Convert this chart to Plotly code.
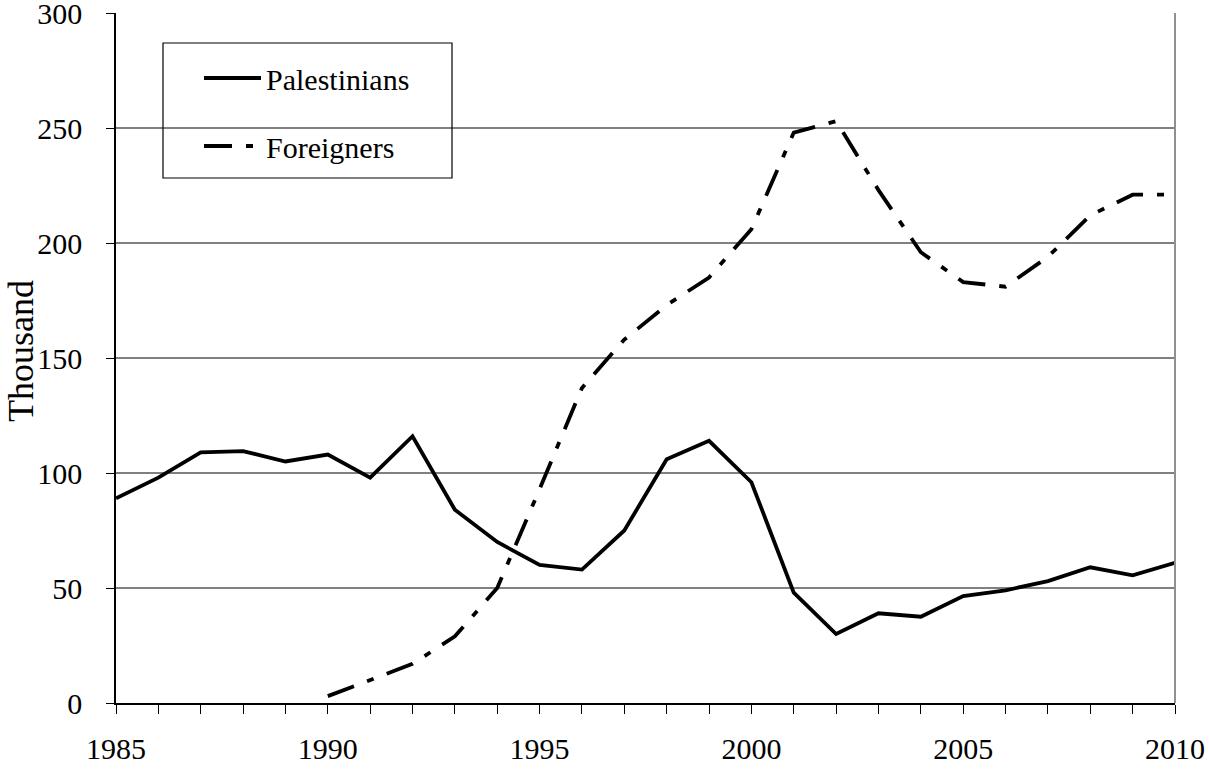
import plotly.graph_objects as go

years_pal = list(range(1985, 2011))
palestinians = [89, 98, 109, 109.5, 105, 108, 98, 116, 84, 70, 60, 58, 75, 106, 114, 96,
                48, 30, 39, 37.5, 46.5, 49, 53, 59, 55.5, 61]
years_for = list(range(1990, 2011))
foreigners = [3, 10, 17, 29, 50, 93, 137, 158, 173, 185, 206,
              248, 253, 223, 196, 183, 181, 194, 212, 221, 221]
x_ticks = [1985, 1990, 1995, 2000, 2005, 2010]
y_ticks = [0, 50, 100, 150, 200, 250, 300]

FONT = "Liberation Serif"
W, H = 1209, 769
L, R, T, B = 116, 34, 13, 66
PW, PH = W - L - R, H - T - B

def px_x(x):
    return (x - L) / PW

def px_y(y):
    return 1 - (y - T) / PH

fig = go.Figure()
fig.add_trace(go.Scatter(x=years_pal, y=palestinians, mode="lines", name="Palestinians",
                         legendgroup="a",
                         line=dict(color="black", width=3.8)))
fig.add_trace(go.Scatter(x=years_for, y=foreigners, mode="lines", name="Foreigners",
                         legendgroup="b",
                         line=dict(color="black", width=3.8, dash="28px,14px,7px,14px")))

fig.update_layout(
    width=W, height=H,
    margin=dict(l=L, r=R, t=T, b=B),
    paper_bgcolor="white", plot_bgcolor="white",
    font=dict(family=FONT, size=30, color="black"),
    showlegend=True,
    legend=dict(x=px_x(199), y=px_y(52), xanchor="left", yanchor="top",
                bgcolor="rgba(0,0,0,0)", borderwidth=0, itemwidth=57,
                font=dict(family=FONT, size=30), tracegroupgap=26),
    xaxis=dict(range=[1985, 2010], tickvals=x_ticks, ticktext=[str(v) for v in x_ticks],
               showgrid=False, zeroline=False, showline=True, linecolor="black", linewidth=1.5,
               ticks="outside", ticklen=9, tickcolor="black", tickwidth=1,
               minor=dict(dtick=1, ticks="outside", ticklen=9, tickcolor="black", tickwidth=1, showgrid=False),
               tickfont=dict(family=FONT, size=30), automargin=False, ticklabelstandoff=9,
               ticklabeloverflow="allow"),
    yaxis=dict(range=[0, 300], tickvals=y_ticks, showgrid=True, gridcolor="#808080", gridwidth=1.5,
               zeroline=False, showline=True, linecolor="black", linewidth=1.5,
               ticks="outside", ticklen=8, tickcolor="black",
               tickfont=dict(family=FONT, size=30), automargin=False, ticklabelstandoff=18,
               ticklabeloverflow="allow"),
    annotations=[dict(text="Thousand", xref="paper", yref="paper",
                      x=px_x(21), y=px_y(351), xanchor="center", yanchor="middle",
                      textangle=-90, showarrow=False,
                      font=dict(family=FONT, size=36, color="black"))],
)

# legend frame and right plot border
fig.add_shape(type="rect", xref="paper", yref="paper",
              x0=px_x(163), x1=px_x(452), y0=px_y(178), y1=px_y(43),
              line=dict(color="black", width=1.2), fillcolor="rgba(0,0,0,0)")
fig.add_shape(type="line", xref="paper", yref="paper", x0=1, x1=1, y0=0, y1=1,
              line=dict(color="#909090", width=2))

fig.write_html("out.html", config={"displayModeBar": False},
               post_script="document.body.style.margin='0';document.body.style.overflow='hidden';")
